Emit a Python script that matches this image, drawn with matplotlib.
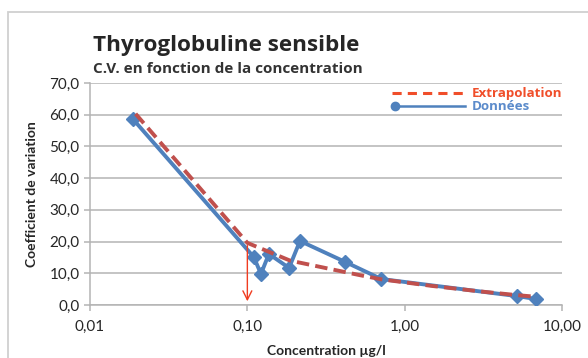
import matplotlib.pyplot as plt
from matplotlib.patches import Rectangle
from matplotlib.lines import Line2D

# Données
conc = [0.0187, 0.110, 0.122, 0.137, 0.184, 0.216, 0.418, 0.71, 5.2, 6.8]
cv = [58.7, 15.1, 9.8, 16.1, 11.7, 20.2, 13.6, 8.2, 2.8, 1.9]

# Extrapolation
ext_conc = [0.0195, 0.10, 0.187, 0.52, 0.71, 1.5, 3.0, 5.2, 6.5]
ext_cv = [60.3, 19.6, 14.0, 9.4, 8.1, 6.0, 4.3, 3.1, 2.7]

seuil = 0.10

xticks = [0.01, 0.1, 1, 10]
xlabels = ["0,01", "0,10", "1,00", "10,00"]
yticks = [0, 10, 20, 30, 40, 50, 60, 70]

blue = "#4F81BD"
red = "#C0504D"
txt = "#262626"
plt.rcParams['font.family'] = ['Lato', 'DejaVu Sans']

fig = plt.figure(figsize=(5.88, 3.58), dpi=100)
ax = fig.add_axes([0.153, 0.148, 0.803, 0.620])

fig.patches.append(Rectangle((8 / 588, -0.1), 1.2, 1 - 12 / 358 + 0.1,
                             transform=fig.transFigure, fill=False,
                             edgecolor="#D0D0D0", linewidth=1.3))

ax.plot(conc, cv, color=blue, lw=2.8, marker="D", ms=7, zorder=3)
ax.plot(ext_conc, ext_cv, color=red, lw=2.8, ls=(0, (3.2, 1.6)), zorder=4)

ax.annotate("", xy=(seuil, 0.3), xytext=(seuil, ext_cv[1]),
            arrowprops=dict(arrowstyle="->", color="#F03C20", lw=1.0,
                            mutation_scale=16), zorder=5)

ax.set_xscale("log")
ax.set_xlim(0.01, 10)
ax.set_ylim(0, 70)
ax.set_xticks(xticks)
ax.set_xticklabels(xlabels)
ax.minorticks_off()
ax.set_yticks(yticks)
ax.set_yticklabels([f"{v:.1f}".replace(".", ",") for v in yticks])

ax.grid(axis="y", color="#B4B4B4", lw=1.1)
ax.set_axisbelow(True)
for s in ["top", "right"]:
    ax.spines[s].set_visible(False)
for s in ["left", "bottom"]:
    ax.spines[s].set_color("#B4B4B4")
    ax.spines[s].set_linewidth(1.1)
ax.tick_params(axis="both", colors="#B4B4B4", labelcolor=txt, labelsize=11,
               length=4, width=1.1)
ax.tick_params(axis="x", pad=7)

ax.set_xlabel("Concentration µg/l", fontsize=10, fontweight="bold", color=txt,
              labelpad=8)
ax.set_ylabel("Coefficient de variation", fontsize=10, fontweight="bold",
              color=txt, labelpad=8)

fig.text(93 / 588, 1 - 51 / 358, "Thyroglobuline sensible", fontsize=16.2,
         fontweight="bold", color=txt, family="Open Sans")
fig.text(93 / 588, 1 - 73 / 358, "C.V. en fonction de la concentration",
         fontsize=11, fontweight="bold", color="#333333", family="Open Sans")

# légende
fig.lines.append(Line2D([392 / 588, 465 / 588], [1 - 93 / 358] * 2,
                        transform=fig.transFigure, color="#F04E2A", lw=2.2,
                        ls=(0, (3, 2))))
fig.lines.append(Line2D([395 / 588, 465 / 588], [1 - 106 / 358] * 2,
                        transform=fig.transFigure, color=blue, lw=1.8))
fig.lines.append(Line2D([395 / 588], [1 - 106 / 358], transform=fig.transFigure,
                        color=blue, marker="o", ms=6))
fig.text(472 / 588, 1 - 93 / 358, "Extrapolation", fontsize=9.6,
         fontweight="bold", color="#F04E2A", va="center", family="Open Sans")
fig.text(472 / 588, 1 - 106 / 358, "Données", fontsize=9.6,
         fontweight="bold", color="#5B8BCB", va="center", family="Open Sans")

fig.savefig("out.png", dpi=100)
